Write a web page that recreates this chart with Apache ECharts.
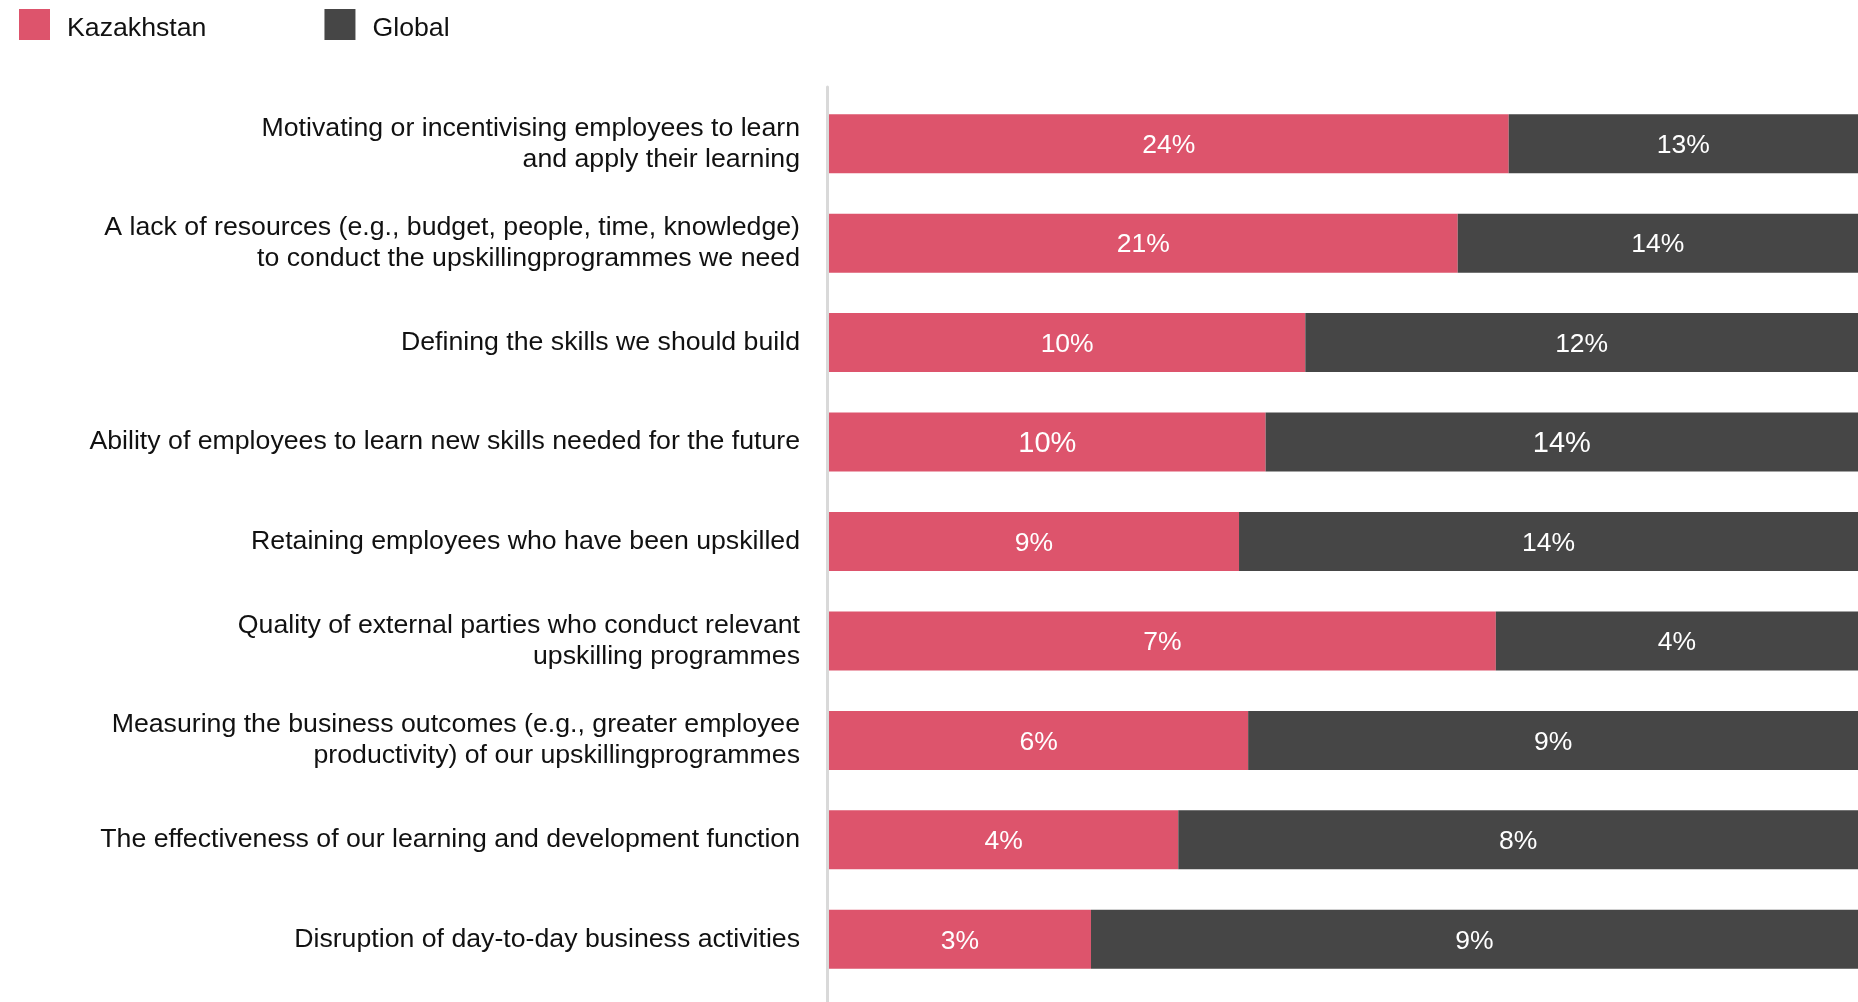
<!DOCTYPE html>
<html>
<head>
<meta charset="utf-8">
<title>Upskilling challenges: Kazakhstan vs Global</title>
<script src="https://cdn.jsdelivr.net/npm/echarts@6/dist/echarts.min.js"></script>
<style>
  html, body { margin: 0; padding: 0; background: #ffffff; }
  #chart { width: 1858px; height: 1002px; }
</style>
</head>
<body>
<div id="chart"></div>
<script>
// Survey answers, top to bottom
const categories = [
  'Motivating or incentivising employees to learn\nand apply their learning',
  'A lack of resources (e.g., budget, people, time, knowledge)\nto conduct the upskillingprogrammes we need',
  'Defining the skills we should build',
  'Ability of employees to learn new skills needed for the future',
  'Retaining employees who have been upskilled',
  'Quality of external parties who conduct relevant\nupskilling programmes',
  'Measuring the business outcomes (e.g., greater employee\nproductivity) of our upskillingprogrammes',
  'The effectiveness of our learning and development function',
  'Disruption of day-to-day business activities'
];
const kazakhstan = [24, 21, 10, 10, 9, 7, 6, 4, 3];
const global = [13, 14, 12, 14, 14, 4, 9, 8, 9];
const seriesNames = ['Kazakhstan', 'Global'];

const RED = '#DD546C';
const DARK = '#464646';
const FONT = "'Liberation Sans', Arial, sans-serif";
const TEXT_SIZE = 26.7;
const largeLabelRow = 3; // this row's value labels are set slightly larger

// Each bar is a 100% split of the two stated values
function shares(own, other) {
  return own.map((v, i) => ({
    value: v / (v + other[i]),
    raw: v,
    label: { fontSize: i === largeLabelRow ? 29 : 26.5 }
  }));
}

const valueLabel = {
  show: true,
  position: 'inside',
  offset: [0, 2],
  color: '#ffffff',
  fontFamily: FONT,
  fontSize: 26.5,
  formatter: p => p.data.raw + '%'
};

const chart = echarts.init(document.getElementById('chart'), null, { renderer: 'canvas' });

chart.setOption({
  animation: false,
  backgroundColor: '#ffffff',
  textStyle: { fontFamily: FONT },
  legend: {
    left: 19,
    top: 9,
    padding: 0,
    itemWidth: 31,
    itemHeight: 31,
    itemGap: 118,
    icon: 'rect',
    data: seriesNames,
    formatter: name => '{t|' + name + '}',
    textStyle: {
      fontFamily: FONT,
      fontSize: TEXT_SIZE,
      color: '#111111',
      padding: [0, 0, 0, 12],
      rich: {
        // sits the legend text a touch below the swatch centre
        t: { fontFamily: FONT, fontSize: TEXT_SIZE, color: '#111111', lineHeight: 35, verticalAlign: 'bottom' }
      }
    }
  },
  grid: [
    { left: 829, right: 0, top: 94, height: 895, containLabel: false },
    { left: 827.5, right: 0, top: 87, bottom: 0, containLabel: false }
  ],
  xAxis: [
    // the full 100% bar runs on a little past the right edge and is clipped there
    { type: 'value', gridIndex: 0, min: 0, max: 0.982, show: false },
    { type: 'value', gridIndex: 1, show: false }
  ],
  yAxis: [
    {
      type: 'category',
      gridIndex: 0,
      data: categories,
      inverse: true,
      axisLine: { show: false },
      axisTick: { show: false },
      axisLabel: {
        margin: 29,
        fontFamily: FONT,
        fontSize: TEXT_SIZE,
        lineHeight: 31,
        color: '#111111',
        align: 'right'
      }
    },
    {
      type: 'value',
      gridIndex: 1,
      axisLine: { show: true, lineStyle: { color: '#d9d9d9', width: 3 } },
      axisTick: { show: false },
      axisLabel: { show: false },
      splitLine: { show: false }
    }
  ],
  series: [
    {
      name: seriesNames[0],
      type: 'bar',
      stack: 'total',
      barWidth: 59,
      clip: true,
      itemStyle: { color: RED },
      label: valueLabel,
      data: shares(kazakhstan, global)
    },
    {
      name: seriesNames[1],
      type: 'bar',
      stack: 'total',
      barWidth: 59,
      clip: true,
      itemStyle: { color: DARK },
      label: valueLabel,
      data: shares(global, kazakhstan)
    }
  ]
});
</script>
</body>
</html>
